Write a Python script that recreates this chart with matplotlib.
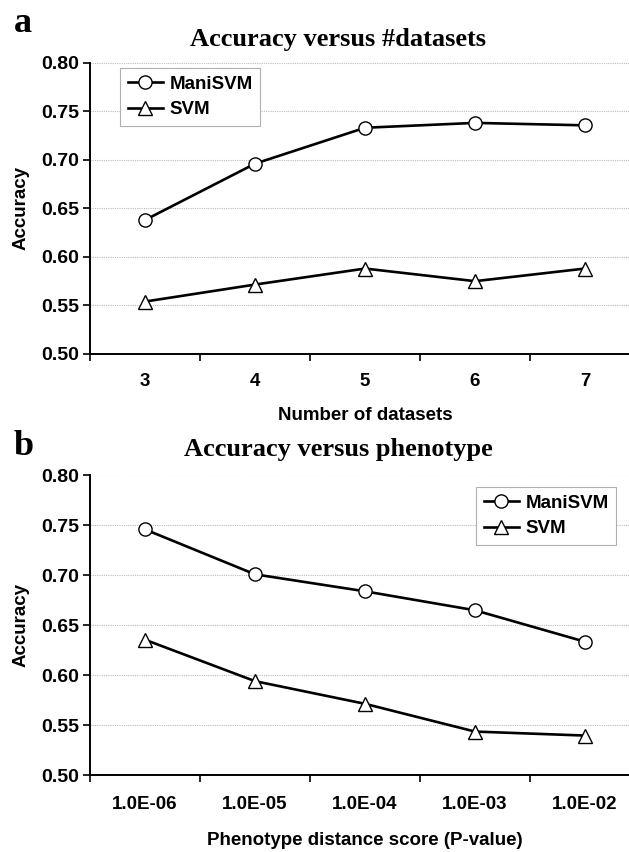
import matplotlib
matplotlib.use("Agg")
import matplotlib.pyplot as plt
import numpy as np

# ---- data ----
cats_a = ["3", "4", "5", "6", "7"]
mani_a = [0.638, 0.696, 0.733, 0.738, 0.7355]
svm_a = [0.554, 0.5715, 0.588, 0.575, 0.588]

cats_b = ["1.0E-06", "1.0E-05", "1.0E-04", "1.0E-03", "1.0E-02"]
mani_b = [0.746, 0.701, 0.684, 0.665, 0.6335]
svm_b = [0.6355, 0.594, 0.5713, 0.5435, 0.5395]

yticks = [0.50, 0.55, 0.60, 0.65, 0.70, 0.75, 0.80]

W, H = 629, 852
fig = plt.figure(figsize=(W / 100, H / 100), dpi=100)

sans = "Liberation Sans"
serif = "Liberation Serif"
FS = 13.5


def make_panel(rect, cats, mani, svm, title, xlabel, letter, letter_y, title_y,
               legend_px, tick_pad, label_pad):
    ax = fig.add_axes(rect)
    x = np.arange(len(cats))
    ax.set_xlim(-0.5, len(cats) - 0.5)
    ax.set_ylim(0.5, 0.8)
    ax.set_yticks(yticks)
    ax.set_yticklabels(["%.2f" % v for v in yticks], fontfamily=sans,
                       fontweight="bold", fontsize=14)
    ax.yaxis.grid(True, color="#bdbdbd", linestyle=(0, (1, 1)), linewidth=0.8)
    ax.set_axisbelow(True)
    # category boundaries as major ticks, labels at centers as minor ticks
    ax.set_xticks(np.arange(-0.5, len(cats), 1.0))
    ax.set_xticklabels([])
    ax.set_xticks(x, minor=True)
    ax.set_xticklabels(cats, minor=True, fontfamily=sans, fontweight="bold",
                       fontsize=FS)
    ax.tick_params(axis="x", which="minor", length=0, pad=tick_pad)
    ax.tick_params(axis="x", which="major", length=5, width=1.2, direction="out")
    ax.tick_params(axis="y", length=5, width=1.2, direction="out", pad=3)
    for s in ["top", "right"]:
        ax.spines[s].set_visible(False)
    for s in ["left", "bottom"]:
        ax.spines[s].set_linewidth(1.4)
    ax.plot(x, mani, color="black", lw=1.9, marker="o", markersize=9.5,
            markerfacecolor="white", markeredgecolor="black",
            markeredgewidth=1.0, label="ManiSVM", zorder=3)
    ax.plot(x, svm, color="black", lw=1.9, marker="^", markersize=10.5,
            markerfacecolor="white", markeredgecolor="black",
            markeredgewidth=1.0, label="SVM", zorder=3)
    ax.set_xlabel(xlabel, fontfamily=sans, fontweight="bold", fontsize=FS,
                  labelpad=label_pad)
    ax.set_ylabel("Accuracy", fontfamily=sans, fontweight="bold", fontsize=FS)
    ax.yaxis.set_label_coords(-0.11, 0.5)
    lx, ly = legend_px
    leg = ax.legend(loc="upper left",
                    bbox_to_anchor=(lx / W, 1 - ly / H),
                    bbox_transform=fig.transFigure, borderaxespad=0,
                    frameon=True, fancybox=False, edgecolor="#b0b0b0",
                    framealpha=1,
                    prop={"family": sans, "weight": "bold", "size": FS},
                    handlelength=1.9, handletextpad=0.35, borderpad=0.4,
                    labelspacing=0.45)
    leg.get_frame().set_linewidth(0.8)
    fig.text(338 / W, 1 - title_y / H, title, ha="center", va="baseline",
             fontfamily=serif, fontweight="bold", fontsize=19)
    fig.text(14 / W, 1 - letter_y / H, letter, ha="left", va="baseline",
             fontfamily=serif, fontweight="bold", fontsize=26)
    return ax


left = 90 / W
width = 550 / W
# panel a: top 62.7 px, bottom 354 px
make_panel([left, 1 - 354 / H, width, (354 - 62.7) / H], cats_a, mani_a, svm_a,
           "Accuracy versus #datasets", "Number of datasets", "a", 32, 46,
           (120, 68), 14, 12)
# panel b: top 475.5, bottom 775
make_panel([left, 1 - 775 / H, width, (775 - 475.5) / H], cats_b, mani_b, svm_b,
           "Accuracy versus phenotype", "Phenotype distance score (P-value)", "b",
           455, 456, (476, 487), 15, 14)

fig.savefig("out.png", dpi=100)
